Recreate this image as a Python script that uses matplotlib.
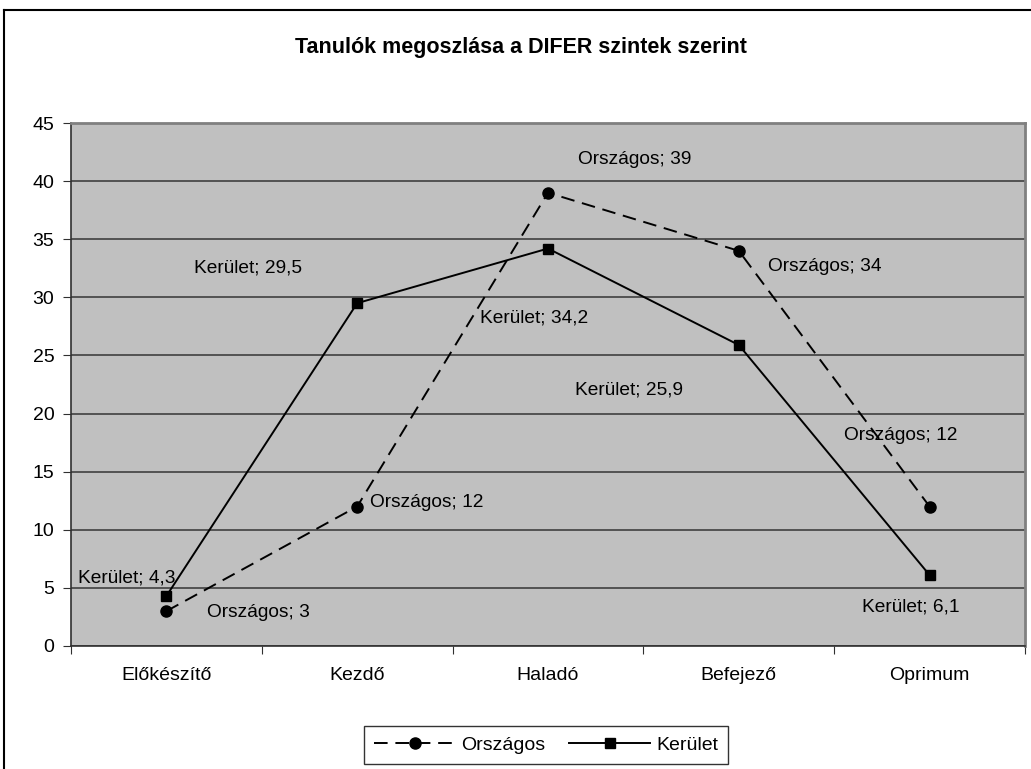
import matplotlib.pyplot as plt
from matplotlib.lines import Line2D
import numpy as np

plt.rcParams['font.family'] = ['Liberation Sans', 'DejaVu Sans']

categories = ['Előkészítő', 'Kezdő', 'Haladó', 'Befejező', 'Oprimum']
orszagos = [3, 12, 39, 34, 12]
kerulet = [4.3, 29.5, 34.2, 25.9, 6.1]
orszagos_lbl = ['3', '12', '39', '34', '12']
kerulet_lbl = ['4,3', '29,5', '34,2', '25,9', '6,1']

# label placement (pixel offsets from the point)
off_o = [(92, -1), (70, 4), (87, 33), (86, -16), (-29, 71)]
off_k = [(-40, 18), (-109, 35), (-14, -69), (-110, -45), (-19, -32)]

W, H = 1031, 769
fig = plt.figure(figsize=(W / 100, H / 100), dpi=100)
ax = fig.add_axes([71 / W, 1 - 646 / H, (1025 - 71) / W, (646 - 123) / H])
ax.set_facecolor('#C0C0C0')

x = np.arange(len(categories))
ax.plot(x, orszagos, color='black', lw=1.4, linestyle=(0, (7, 4)),
        marker='o', markersize=8, label='Országos', zorder=3)
ax.plot(x, kerulet, color='black', lw=1.4, marker='s', markersize=7.5,
        label='Kerület', zorder=3)

for i in range(len(categories)):
    ax.annotate('Országos; ' + orszagos_lbl[i], (x[i], orszagos[i]),
                xytext=off_o[i], textcoords='offset pixels',
                ha='center', va='center', fontsize=13.8)
    ax.annotate('Kerület; ' + kerulet_lbl[i], (x[i], kerulet[i]),
                xytext=off_k[i], textcoords='offset pixels',
                ha='center', va='center', fontsize=13.8)

ax.set_xlim(-0.5, len(categories) - 0.5)
ax.set_ylim(0, 45)
ax.set_yticks(np.arange(0, 46, 5))
ax.yaxis.grid(True, color='#404040', lw=1.2)
ax.set_axisbelow(True)
ax.set_xticks(np.arange(-0.5, len(categories), 1))
ax.set_xticklabels([])
ax.set_xticks(x, minor=True)
ax.set_xticklabels(categories, minor=True)
ax.tick_params(axis='x', which='minor', length=0, pad=15, labelsize=14)
ax.tick_params(axis='x', which='major', length=6, color='#303030')
ax.tick_params(axis='y', length=6, color='#303030', labelsize=14, pad=6)
for s in ['left', 'bottom']:
    ax.spines[s].set_color('#303030')
    ax.spines[s].set_linewidth(1.2)
for s in ['top', 'right']:
    ax.spines[s].set_color('#808080')
    ax.spines[s].set_linewidth(2)

fig.text(521 / W, 1 - 47 / H, 'Tanulók megoszlása a DIFER szintek szerint',
         ha='center', va='center', fontsize=15.5, fontweight='bold')

leg = fig.legend(loc='center', bbox_to_anchor=(546 / W, 1 - 745 / H),
                 ncol=2, frameon=True, fancybox=False, fontsize=14,
                 handlelength=4.2, columnspacing=1.2, handletextpad=0.3,
                 borderpad=0.5)
leg.get_frame().set_edgecolor('black')
leg.get_frame().set_linewidth(1)

# outer chart border
fig.add_artist(Line2D([4 / W, 4 / W], [-0.1, 1 - 10 / H], color='black',
                      lw=1.5, transform=fig.transFigure))
fig.add_artist(Line2D([4 / W, 1.1], [1 - 10 / H, 1 - 10 / H], color='black',
                      lw=1.5, transform=fig.transFigure))

fig.savefig('out.png', dpi=100)
